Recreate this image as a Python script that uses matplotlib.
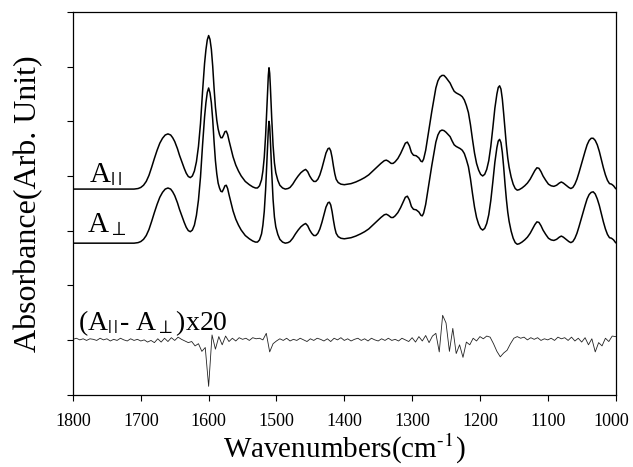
import numpy as np
import matplotlib
matplotlib.use('Agg')
import matplotlib.pyplot as plt
from matplotlib.transforms import ScaledTranslation

plt.rcParams['font.family'] = 'Liberation Serif'
plt.rcParams['mathtext.fontset'] = 'stix'

# parallel-polarised absorbance (baseline corrected), non-uniform grid
wn_par = [1800, 1750, 1710, 1704, 1700, 1696, 1692, 1688, 1684, 1680,
          1676, 1672, 1668, 1664, 1660, 1656, 1653, 1650, 1646, 1643,
          1639, 1636, 1633, 1630, 1627, 1624, 1621, 1618, 1615, 1612,
          1609, 1606, 1604, 1602, 1600, 1598, 1596, 1594, 1592, 1590,
          1588, 1586, 1584, 1582, 1580, 1578, 1576, 1574, 1572, 1570,
          1567, 1564, 1560, 1556, 1552, 1546, 1540, 1535, 1531, 1528,
          1525, 1522, 1520, 1518, 1516, 1514, 1513, 1512, 1511, 1510,
          1509, 1507, 1505, 1503, 1501, 1498, 1495, 1491, 1487, 1483,
          1480, 1476, 1472, 1468, 1464, 1460, 1457, 1454, 1451, 1448,
          1445, 1442, 1439, 1436, 1433, 1430, 1427, 1424, 1422, 1420,
          1418, 1416, 1414, 1412, 1409, 1405, 1400, 1395, 1390, 1383,
          1376, 1370, 1364, 1358, 1352, 1346, 1341, 1338, 1335, 1331,
          1328, 1325, 1321, 1317, 1313, 1310, 1307, 1304, 1301, 1298,
          1294, 1290, 1287, 1285, 1283, 1280, 1277, 1274, 1271, 1268,
          1265, 1262, 1259, 1256, 1253, 1250, 1247, 1244, 1241, 1238,
          1235, 1232, 1229, 1226, 1223, 1220, 1217, 1214, 1211, 1208,
          1205, 1202, 1199, 1196, 1193, 1190, 1187, 1184, 1181, 1178,
          1175, 1173, 1171, 1169, 1167, 1165, 1163, 1161, 1159, 1157,
          1154, 1151, 1148, 1145, 1142, 1138, 1134, 1130, 1126, 1122,
          1119, 1116, 1113, 1110, 1107, 1103, 1099, 1095, 1091, 1087,
          1083, 1080, 1077, 1073, 1069, 1066, 1063, 1060, 1057, 1054,
          1051, 1048, 1045, 1042, 1039, 1036, 1033, 1030, 1027, 1024,
          1021, 1018, 1015, 1012, 1009, 1006, 1003, 1000]
a_par = [0.00, 0.00, 0.00, 0.01, 0.03, 0.07, 0.14, 0.25, 0.40, 0.56,
         0.71, 0.84, 0.93, 0.99, 1.01, 0.99, 0.94, 0.87, 0.74, 0.62,
         0.48, 0.38, 0.29, 0.23, 0.21, 0.24, 0.33, 0.50, 0.78, 1.20,
         1.78, 2.30, 2.55, 2.73, 2.81, 2.74, 2.56, 2.25, 1.85, 1.50,
         1.26, 1.10, 1.00, 0.94, 0.94, 0.99, 1.05, 1.06, 1.00, 0.89,
         0.74, 0.59, 0.44, 0.33, 0.24, 0.14, 0.08, 0.04, 0.02, 0.02,
         0.06, 0.17, 0.33, 0.58, 0.98, 1.50, 1.80, 2.08, 2.22, 2.12,
         1.88, 1.30, 0.80, 0.48, 0.30, 0.16, 0.07, 0.02, 0.00, 0.01,
         0.03, 0.09, 0.17, 0.24, 0.30, 0.34, 0.36, 0.32, 0.24, 0.18,
         0.14, 0.14, 0.18, 0.26, 0.38, 0.52, 0.66, 0.74, 0.75, 0.70,
         0.58, 0.42, 0.28, 0.18, 0.12, 0.09, 0.08, 0.09, 0.10, 0.13,
         0.17, 0.21, 0.26, 0.33, 0.40, 0.47, 0.52, 0.53, 0.51, 0.47,
         0.47, 0.50, 0.56, 0.65, 0.76, 0.84, 0.86, 0.79, 0.67, 0.62,
         0.61, 0.57, 0.51, 0.50, 0.55, 0.71, 0.95, 1.20, 1.42, 1.64,
         1.85, 1.98, 2.05, 2.08, 2.08, 2.04, 1.99, 1.94, 1.86, 1.79,
         1.76, 1.74, 1.72, 1.69, 1.63, 1.53, 1.40, 1.18, 0.91, 0.66,
         0.47, 0.35, 0.27, 0.24, 0.27, 0.36, 0.52, 0.78, 1.12, 1.48,
         1.74, 1.86, 1.89, 1.83, 1.65, 1.38, 1.08, 0.80, 0.57, 0.40,
         0.22, 0.09, 0.01, -0.02, -0.01, 0.02, 0.06, 0.11, 0.18, 0.27,
         0.34, 0.39, 0.38, 0.32, 0.24, 0.16, 0.09, 0.06, 0.05, 0.07,
         0.11, 0.13, 0.11, 0.07, 0.03, 0.01, 0.03, 0.09, 0.18, 0.30,
         0.43, 0.56, 0.69, 0.81, 0.89, 0.93, 0.93, 0.89, 0.81, 0.69,
         0.54, 0.39, 0.26, 0.16, 0.10, 0.09, 0.06, 0.01]

# perpendicular-polarised absorbance on the same grid
a_perp = [0.00, 0.00, 0.00, 0.01, 0.03, 0.07, 0.14, 0.25, 0.40, 0.56,
          0.71, 0.84, 0.93, 0.99, 1.01, 0.99, 0.94, 0.87, 0.74, 0.62,
          0.48, 0.38, 0.29, 0.23, 0.21, 0.24, 0.33, 0.51, 0.79, 1.21,
          1.79, 2.31, 2.57, 2.76, 2.84, 2.75, 2.57, 2.26, 1.86, 1.51,
          1.27, 1.10, 1.01, 0.95, 0.94, 0.99, 1.05, 1.06, 1.00, 0.89,
          0.74, 0.59, 0.44, 0.33, 0.24, 0.14, 0.08, 0.04, 0.02, 0.02,
          0.06, 0.17, 0.33, 0.58, 0.98, 1.50, 1.80, 2.08, 2.23, 2.14,
          1.89, 1.30, 0.80, 0.48, 0.30, 0.16, 0.07, 0.02, 0.00, 0.01,
          0.03, 0.09, 0.17, 0.24, 0.30, 0.34, 0.36, 0.32, 0.24, 0.18,
          0.14, 0.14, 0.18, 0.26, 0.38, 0.52, 0.66, 0.74, 0.75, 0.70,
          0.58, 0.42, 0.28, 0.18, 0.12, 0.09, 0.08, 0.09, 0.10, 0.13,
          0.17, 0.21, 0.26, 0.33, 0.40, 0.47, 0.52, 0.53, 0.51, 0.47,
          0.47, 0.50, 0.56, 0.65, 0.76, 0.84, 0.86, 0.79, 0.67, 0.62,
          0.61, 0.57, 0.51, 0.50, 0.55, 0.71, 0.95, 1.20, 1.42, 1.64,
          1.85, 1.98, 2.05, 2.07, 2.06, 2.03, 1.99, 1.95, 1.87, 1.80,
          1.77, 1.75, 1.73, 1.70, 1.64, 1.53, 1.40, 1.18, 0.91, 0.66,
          0.47, 0.35, 0.27, 0.24, 0.27, 0.36, 0.52, 0.78, 1.12, 1.48,
          1.75, 1.87, 1.90, 1.84, 1.66, 1.39, 1.08, 0.80, 0.57, 0.40,
          0.22, 0.09, 0.01, -0.02, -0.01, 0.02, 0.06, 0.11, 0.18, 0.27,
          0.34, 0.39, 0.38, 0.32, 0.24, 0.16, 0.09, 0.06, 0.05, 0.07,
          0.11, 0.13, 0.11, 0.07, 0.03, 0.01, 0.03, 0.09, 0.18, 0.30,
          0.43, 0.56, 0.69, 0.81, 0.89, 0.93, 0.94, 0.90, 0.81, 0.69,
          0.54, 0.39, 0.26, 0.16, 0.10, 0.09, 0.06, 0.01]

# dichroic difference (A_par - A_perp) x 20, sampled every 5 cm-1 from 1800 down
wn_diff = np.arange(1800, 999, -5)
a_diff = [0.00, 0.02, -0.01, 0.01, -0.02, 0.01, 0.00, -0.02, 0.02, -0.01,
          0.01, -0.03, 0.00, -0.02, 0.02, -0.01, -0.03, 0.01, -0.02, 0.00,
          -0.03, -0.01, -0.05, -0.02, -0.06, 0.01, -0.05, 0.02, -0.04, 0.03,
          -0.02, 0.04, 0.00, -0.03, -0.06, -0.04, -0.12, -0.08, -0.22, -0.15,
          -0.86, 0.08, -0.18, 0.05, -0.10, 0.06, -0.04, 0.02, -0.03, 0.03,
          0.00, 0.02, -0.02, 0.03, 0.01, 0.02, -0.01, 0.11, -0.23, -0.08,
          -0.03, 0.01, -0.02, 0.02, -0.03, 0.00, -0.02, 0.02, -0.01, -0.04,
          0.01, -0.02, 0.02, 0.00, -0.03, 0.01, -0.04, 0.02, -0.01, 0.03,
          -0.02, 0.01, -0.03, 0.00, 0.02, -0.02, 0.01, -0.03, 0.02, -0.01,
          -0.03, 0.01, -0.02, 0.02, -0.02, 0.00, -0.03, 0.02, -0.01, -0.04,
          0.03, -0.05, 0.05, -0.03, 0.07, -0.06, 0.06, 0.11, -0.23, 0.44,
          0.30, -0.22, 0.20, -0.26, -0.10, -0.33, -0.05, -0.10, 0.02, -0.03,
          0.05, 0.01, 0.06, 0.04, -0.08, -0.22, -0.32, -0.25, -0.20, -0.08,
          0.02, 0.05, 0.02, 0.04, -0.01, 0.03, 0.00, 0.03, -0.02, 0.01,
          -0.01, 0.02, -0.02, 0.04, 0.01, 0.03, -0.02, 0.04, -0.03, 0.02,
          -0.05, 0.03, -0.10, 0.01, -0.23, -0.06, -0.12, 0.02, -0.04, 0.06,
          0.05]

# vertical offsets of the stacked traces
off_par, off_perp, off_diff = 3.76, 2.77, 1.01

fig = plt.figure(figsize=(6.33, 4.67), dpi=100)
ax = fig.add_axes([0.1153, 0.1552, 0.8572, 0.819])

ax.plot(wn_par, np.array(a_par) + off_par, color='black', lw=1.1)
ax.plot(wn_par, np.array(a_perp) + off_perp, color='black', lw=1.1)
ax.plot(wn_diff, np.array(a_diff) + off_diff, color='#222222', lw=0.6)

ax.text(1776, 3.89, r'A$_{|\,|}$', fontsize=21, va='baseline')
ax.text(1780, 2.98, r'A$_{\perp}$', fontsize=21, va='baseline')
ax.text(1792, 1.17, r'(A$_{|\,|}$- A$_{\perp}$)x20', fontsize=20,
        va='baseline')

ax.set_xlim(1800, 1000)
ax.set_ylim(0, 7)
ax.set_xticks(range(1800, 999, -100))
ax.set_yticks(range(0, 8))
ax.set_yticklabels([])
ax.tick_params(direction='out', length=4, width=0.8, labelsize=13)
ax.tick_params(axis='x', pad=9)
for sp in ax.spines.values():
    sp.set_linewidth(0.9)

# keep the last wavenumber label inside the figure edge
last = ax.get_xticklabels()[-1]
last.set_transform(last.get_transform()
                   + ScaledTranslation(-4 / 100, 0, fig.dpi_scale_trans))

ax.set_xlabel(r'Wavenumbers(cm$^{\text{-1}}$)', fontsize=21, labelpad=2)
ax.set_ylabel('Absorbance(Arb. Unit)', fontsize=23, labelpad=14)

plt.savefig('out.png', dpi=100)
